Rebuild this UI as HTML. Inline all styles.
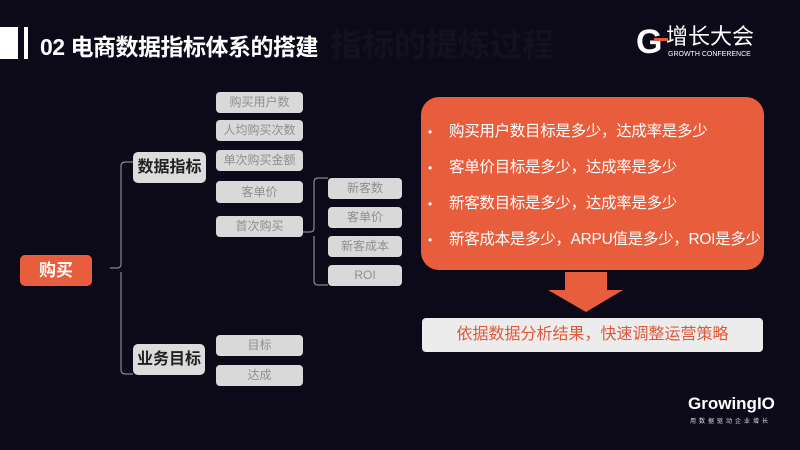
<!DOCTYPE html>
<html><head><meta charset="utf-8"><style>
body{margin:0;width:800px;height:450px;overflow:hidden;background:#0c0a18;font-family:"Liberation Sans","Noto Sans CJK SC",sans-serif;position:relative}
.a{position:absolute}
.g{position:absolute;background:#d9d9d9;border-radius:4px;color:#8f8f8f;font-size:12px;text-align:center;box-sizing:border-box;white-space:nowrap}
.m{position:absolute;background:#dcdcdc;border-radius:5px;color:#222;font-size:16px;font-weight:bold;text-align:center}
.li{position:absolute;left:428px;color:#fff;font-size:15.5px;white-space:nowrap;letter-spacing:-0.3px}
.li b{font-weight:normal;display:inline-block;width:21px;font-size:12px}
</style></head><body>
<div class="a" style="left:0;top:27px;width:18px;height:32px;background:#fff"></div>
<div class="a" style="left:24px;top:27px;width:4px;height:32px;background:#fff"></div>
<div class="a" style="left:330px;top:20px;font-size:32px;font-weight:bold;color:#131120">指标的提炼过程</div>
<div class="a" style="left:40px;top:28px;font-size:23px;font-weight:bold;color:#fff;letter-spacing:-0.5px">02 电商数据指标体系的搭建</div>
<div class="a" style="left:636px;top:24px;font-size:34px;font-weight:bold;color:#fff;line-height:36px">G</div>
<div class="a" style="left:654px;top:38px;width:14px;height:3px;background:#e85a37"></div>
<div class="a" style="left:666px;top:24px;font-size:22px;color:#fff;line-height:26px">增长大会</div>
<div class="a" style="left:668px;top:51px;font-size:7px;color:#fff">GROWTH CONFERENCE</div>

<svg class="a" style="left:0;top:0" width="800" height="450">
<g fill="none" stroke="#888" stroke-width="1.2">
<path d="M110 268 H117 Q121 268 121 264 V166 Q121 162 126 162 H133"/>
<path d="M121 272 V370 Q121 374 126 374 H133"/>
<path d="M303 232 H310 Q314 232 314 228 V182 Q314 178 318 178 H328"/>
<path d="M314 236 V281 Q314 285 318 285 H328"/>
</g>
<path d="M565 272 H607 V290 H623 L586 312 L548 290 H565 Z" fill="#e85d3c"/>
</svg>

<div class="a" style="left:20px;top:255px;width:72px;height:31px;background:#e85d3c;border-radius:5px;color:#fff;font-size:17px;font-weight:bold;text-align:center;line-height:31px">购买</div>
<div class="m" style="left:133px;top:152px;width:73px;height:31px;line-height:31px">数据指标</div>
<div class="m" style="left:133px;top:344px;width:72px;height:31px;line-height:31px">业务目标</div>

<div class="g" style="left:216px;top:92px;width:87px;height:21px;line-height:21px">购买用户数</div>
<div class="g" style="left:216px;top:120px;width:87px;height:21px;line-height:21px">人均购买次数</div>
<div class="g" style="left:216px;top:150px;width:87px;height:21px;line-height:21px">单次购买金额</div>
<div class="g" style="left:216px;top:181px;width:87px;height:22px;line-height:22px">客单价</div>
<div class="g" style="left:216px;top:216px;width:87px;height:21px;line-height:21px">首次购买</div>
<div class="g" style="left:216px;top:335px;width:87px;height:21px;line-height:21px">目标</div>
<div class="g" style="left:216px;top:365px;width:87px;height:21px;line-height:21px">达成</div>
<div class="g" style="left:328px;top:178px;width:74px;height:21px;line-height:21px">新客数</div>
<div class="g" style="left:328px;top:207px;width:74px;height:21px;line-height:21px">客单价</div>
<div class="g" style="left:328px;top:236px;width:74px;height:21px;line-height:21px">新客成本</div>
<div class="g" style="left:328px;top:265px;width:74px;height:21px;line-height:21px">ROI</div>

<div class="a" style="left:421px;top:97px;width:343px;height:173px;background:#e85d3c;border-radius:18px"></div>
<div class="li" style="top:119px"><b>•</b>购买用户数目标是多少，达成率是多少</div>
<div class="li" style="top:155px"><b>•</b>客单价目标是多少，达成率是多少</div>
<div class="li" style="top:191px"><b>•</b>新客数目标是多少，达成率是多少</div>
<div class="li" style="top:227px"><b>•</b>新客成本是多少，ARPU值是多少，ROI是多少</div>
<div class="a" style="left:422px;top:318px;width:341px;height:34px;background:#ececec;border-radius:4px;color:#e0583a;font-size:16px;text-align:center;line-height:34px">依据数据分析结果，快速调整运营策略</div>

<div class="a" style="left:688px;top:394px;font-size:17px;color:#fff;font-weight:bold">GrowingIO</div>
<div class="a" style="left:690px;top:416px;font-size:6px;color:#ddd;letter-spacing:3px">用数据驱动企业增长</div>
</body></html>
